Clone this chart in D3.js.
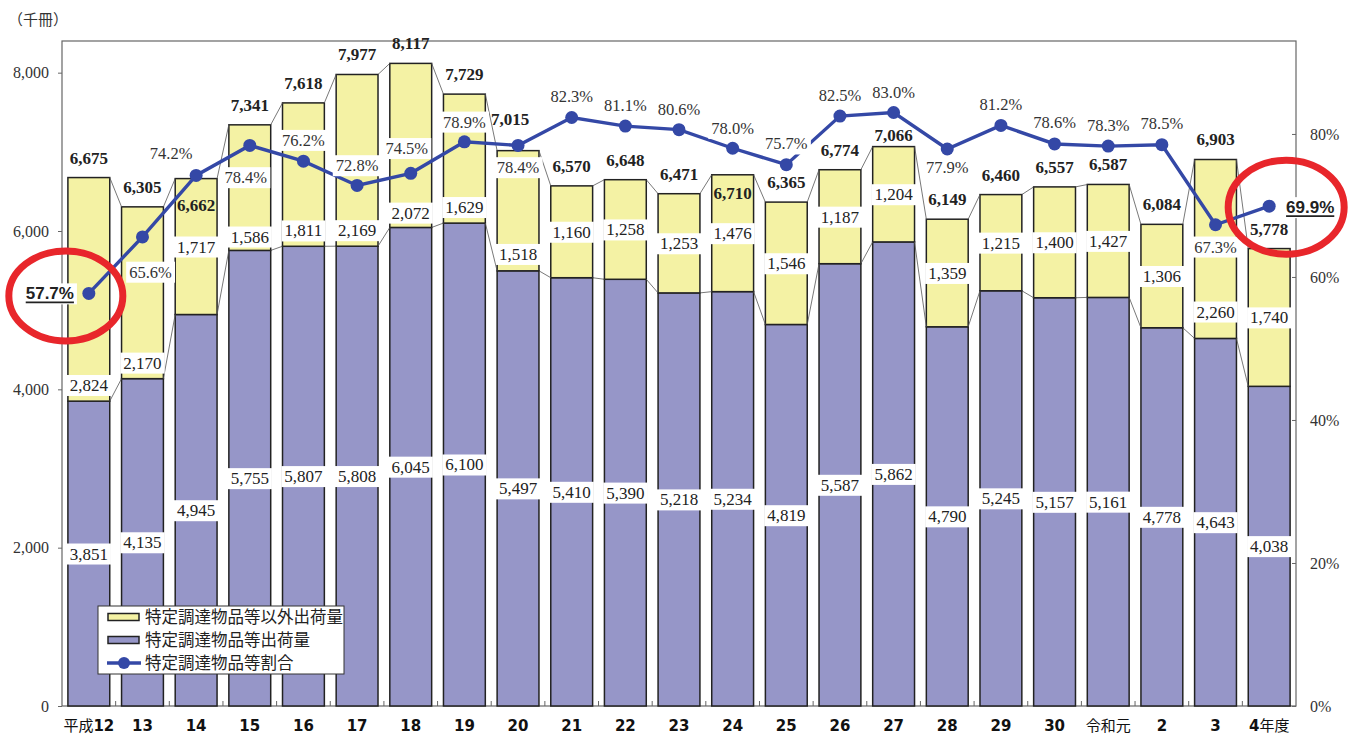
<!DOCTYPE html>
<html><head><meta charset="utf-8">
<script src="https://cdn.jsdelivr.net/npm/d3@7"></script>
<style>body{margin:0;background:#fff}</style>
</head><body><svg id="c" width="1354" height="734"></svg>
<script>
// ---- data ----
const categories = ["平成12","13","14","15","16","17","18","19","20","21","22","23","24","25","26","27","28","29","30","令和元","2","3","4年度"];
const specifiedShipments = [3851,4135,4945,5755,5807,5808,6045,6100,5497,5410,5390,5218,5234,4819,5587,5862,4790,5245,5157,5161,4778,4643,4038];
const otherShipments = [2824,2170,1717,1586,1811,2169,2072,1629,1518,1160,1258,1253,1476,1546,1187,1204,1359,1215,1400,1427,1306,2260,1740];
const totalShipments = [6675,6305,6662,7341,7618,7977,8117,7729,7015,6570,6648,6471,6710,6365,6774,7066,6149,6460,6557,6587,6084,6903,5778];
const specifiedRatio = [57.7,65.6,74.2,78.4,76.2,72.8,74.5,78.9,78.4,82.3,81.1,80.6,78.0,75.7,82.5,83.0,77.9,81.2,78.6,78.3,78.5,67.3,69.9];
const leftTicks = [0,2000,4000,6000,8000];
const rightTicks = [0,20,40,60,80];
const seriesNames = ["特定調達物品等以外出荷量","特定調達物品等出荷量","特定調達物品等割合"];
const unitLabel = "（千冊）";

// ---- label layout (relative placement, not data) ----
const totalLabelPlace = ["above","above","inside","above","above","above","above","above","raised","above","above","above","inside","above","above","close","above","above","above","above","above","above","above"];
const otherLabelFrac = [0.072,0.093,0.5,0.11,0.11,0.093,0.09,0.124,0.14,0.5,0.5,0.5,0.5,0.5,0.5,0.5,0.5,0.5,0.5,0.5,0.5,0.15,0.5];
const ratioLabelDx = [-39,8,-25,-4,0,0,-4,0,0,0,0,0,0,0,0,0,0,0,0,0,0,0,41];
const ratioLabelDy = [0,35,-22,32,-21,-20,-25,-20,22,-21,-21,-20,-20,-21,-21,-20,18.5,-21,-22,-21,-21,22,1];
const highlighted = [0,22];

// ---- setup ----
const n = categories.length;
const svg = d3.select('#c');
const L=62, R=1296, T=41, B=706;
const x = d3.scaleBand().domain(d3.range(n)).range([L,R]).paddingInner(0.22).paddingOuter(0.11);
const bw = x.bandwidth();
const y = d3.scaleLinear().domain([0,8400]).range([B,T]);
const yr = d3.scaleLinear().domain([0,93]).range([B,T]);
const cx = i => x(i) + bw/2;

const YELLOW="#F4F2A4", PURPLE="#9696C8", BLUE="#3448A6", DARK="#222";
const SERIF="'Liberation Serif','Times New Roman',serif";
const SANS="'Liberation Sans',Arial,sans-serif";
const CJK="'Noto Sans CJK JP','Noto Sans',sans-serif";

// unit label
svg.append('text').attr('x',8).attr('y',25).attr('font-family',CJK).attr('font-size',15).attr('fill','#333').text(unitLabel);

// frame
svg.append('rect').attr('x',L).attr('y',T).attr('width',R-L).attr('height',B-T).attr('fill','none').attr('stroke','#666').attr('stroke-width',1.2);

// left axis
const ga = svg.append('g').attr('transform',`translate(${L},0)`)
  .call(d3.axisLeft(y).tickValues(leftTicks).tickSize(4).tickPadding(9).tickFormat(d3.format(",")));
ga.select('.domain').remove();
ga.selectAll('text').attr('font-family',SERIF).attr('font-size',16).attr('fill','#333');
ga.selectAll('line').attr('stroke','#666');

// right axis
const gr = svg.append('g').attr('transform',`translate(${R},0)`)
  .call(d3.axisRight(yr).tickValues(rightTicks).tickSize(-4).tickPadding(14).tickFormat(d=>d+"%"));
gr.select('.domain').remove();
gr.selectAll('text').attr('font-family',SERIF).attr('font-size',16).attr('fill','#333');
gr.selectAll('line').attr('stroke','#666');

// x tick marks at category boundaries
svg.append('g').selectAll('line').data(d3.range(1,n)).join('line')
  .attr('x1',i=>x(i)-x.step()*x.paddingInner()/2).attr('x2',i=>x(i)-x.step()*x.paddingInner()/2)
  .attr('y1',B).attr('y2',B-5).attr('stroke','#666');

// bars
const bars = svg.append('g');
bars.selectAll('rect.p').data(specifiedShipments).join('rect').attr('class','p')
  .attr('x',(d,i)=>x(i)).attr('width',bw).attr('y',d=>y(d)).attr('height',d=>B-y(d))
  .attr('fill',PURPLE).attr('stroke',DARK).attr('stroke-width',1.5);
bars.selectAll('rect.o').data(otherShipments).join('rect').attr('class','o')
  .attr('x',(d,i)=>x(i)).attr('width',bw)
  .attr('y',(d,i)=>y(specifiedShipments[i]+d)).attr('height',(d,i)=>y(specifiedShipments[i])-y(specifiedShipments[i]+d))
  .attr('fill',YELLOW).attr('stroke',DARK).attr('stroke-width',1.5);

// series connector lines
const conn = svg.append('g').attr('stroke','#555').attr('stroke-width',0.8);
d3.range(n-1).forEach(i=>{
  conn.append('line').attr('x1',x(i)+bw).attr('y1',y(totalShipments[i])).attr('x2',x(i+1)).attr('y2',y(totalShipments[i+1]));
  conn.append('line').attr('x1',x(i)+bw).attr('y1',y(specifiedShipments[i])).attr('x2',x(i+1)).attr('y2',y(specifiedShipments[i+1]));
});

// ratio line
const line = d3.line().x((d,i)=>cx(i)).y(d=>yr(d));
svg.append('path').datum(specifiedRatio).attr('d',line).attr('fill','none').attr('stroke',BLUE).attr('stroke-width',3.4);
svg.append('g').selectAll('circle').data(specifiedRatio).join('circle')
  .attr('cx',(d,i)=>cx(i)).attr('cy',d=>yr(d)).attr('r',6.5).attr('fill',BLUE);

// label helper
const labels = svg.append('g');
function label(px,py,txt,opt){
  const g = labels.append('g');
  const r = g.append('rect');
  const t = g.append('text').attr('x',px).attr('y',py).attr('dy','0.35em').attr('text-anchor','middle')
    .attr('font-family',opt.font||SERIF).attr('font-size',opt.size||17).attr('font-weight',opt.weight||'normal')
    .attr('fill',opt.color||'#222').text(txt);
  const bb = t.node().getBBox();
  if(opt.box){
    r.attr('x',bb.x-3).attr('y',bb.y-1).attr('width',bb.width+6).attr('height',bb.height+2).attr('fill','#fff');
  } else r.remove();
  if(opt.underline){
    g.append('line').attr('x1',bb.x).attr('x2',bb.x+bb.width).attr('y1',bb.y+bb.height-1).attr('y2',bb.y+bb.height-1)
      .attr('stroke','#222').attr('stroke-width',1.6);
  }
}
const fmt = d3.format(",");

// purple values (middle of segment)
specifiedShipments.forEach((d,i)=>label(cx(i), y(d/2), fmt(d), {box:true}));
// yellow values
otherShipments.forEach((d,i)=>{
  const y0=y(specifiedShipments[i]), y1=y(specifiedShipments[i]+d);
  label(cx(i), y0+(y1-y0)*otherLabelFrac[i], fmt(d), {box:true});
});
// totals
totalShipments.forEach((d,i)=>{
  const p = totalLabelPlace[i];
  let dy=-20, dx=0;
  if(p==="inside") dy = (i===2?26:18);
  if(p==="raised"){dy=-32; dx=-8;}
  if(p==="close") dy=-12;
  label(cx(i)+dx, y(d)+dy, fmt(d), {weight:'bold'});
});
// ratio labels
specifiedRatio.forEach((d,i)=>{
  const hl = highlighted.includes(i);
  label(cx(i)+ratioLabelDx[i], yr(d)+ratioLabelDy[i], d.toFixed(1)+"%",
    hl ? {font:SANS, size:17, weight:'bold', box:true, underline:true} : {box:true, size:16.5, color:'#333'});
});

// red highlight ellipses
svg.append('ellipse').attr('cx',cx(0)-23).attr('cy',yr(specifiedRatio[0])+2.5).attr('rx',57).attr('ry',45)
  .attr('fill','none').attr('stroke','#E8262B').attr('stroke-width',7);
svg.append('ellipse').attr('cx',cx(n-1)+17).attr('cy',yr(specifiedRatio[n-1])+1).attr('rx',58).attr('ry',47)
  .attr('fill','none').attr('stroke','#E8262B').attr('stroke-width',7);

// x axis category labels (digits bold, kanji regular)
const xl = svg.append('g');
categories.forEach((c,i)=>{
  const t = xl.append('text').attr('x',cx(i)).attr('y',731).attr('text-anchor','middle').attr('fill','#111');
  (c.match(/\d+|\D+/g)).forEach(part=>{
    const isNum=/\d/.test(part);
    t.append('tspan').text(part)
      .attr('font-family',isNum?"'DejaVu Sans',sans-serif":CJK)
      .attr('font-weight',isNum?'bold':'normal').attr('font-size',15);
  });
});

// legend
const lg = svg.append('g');
lg.append('rect').attr('x',98).attr('y',606).attr('width',246).attr('height',68).attr('fill','#fff').attr('stroke','#333').attr('stroke-width',1);
const rowY=[617,640,663];
lg.append('rect').attr('x',108).attr('y',rowY[0]-3.5).attr('width',31).attr('height',7).attr('fill',YELLOW).attr('stroke',DARK).attr('stroke-width',1.5);
lg.append('rect').attr('x',108).attr('y',rowY[1]-3.5).attr('width',31).attr('height',7).attr('fill',PURPLE).attr('stroke',DARK).attr('stroke-width',1.5);
lg.append('line').attr('x1',107).attr('x2',141).attr('y1',rowY[2]).attr('y2',rowY[2]).attr('stroke',BLUE).attr('stroke-width',3.4);
lg.append('circle').attr('cx',124).attr('cy',rowY[2]).attr('r',6).attr('fill',BLUE);
seriesNames.forEach((s,k)=>lg.append('text').attr('x',145).attr('y',rowY[k]).attr('dy','0.36em')
  .attr('font-family',CJK).attr('font-size',16.5).attr('fill','#222').text(s));
</script></body></html>
